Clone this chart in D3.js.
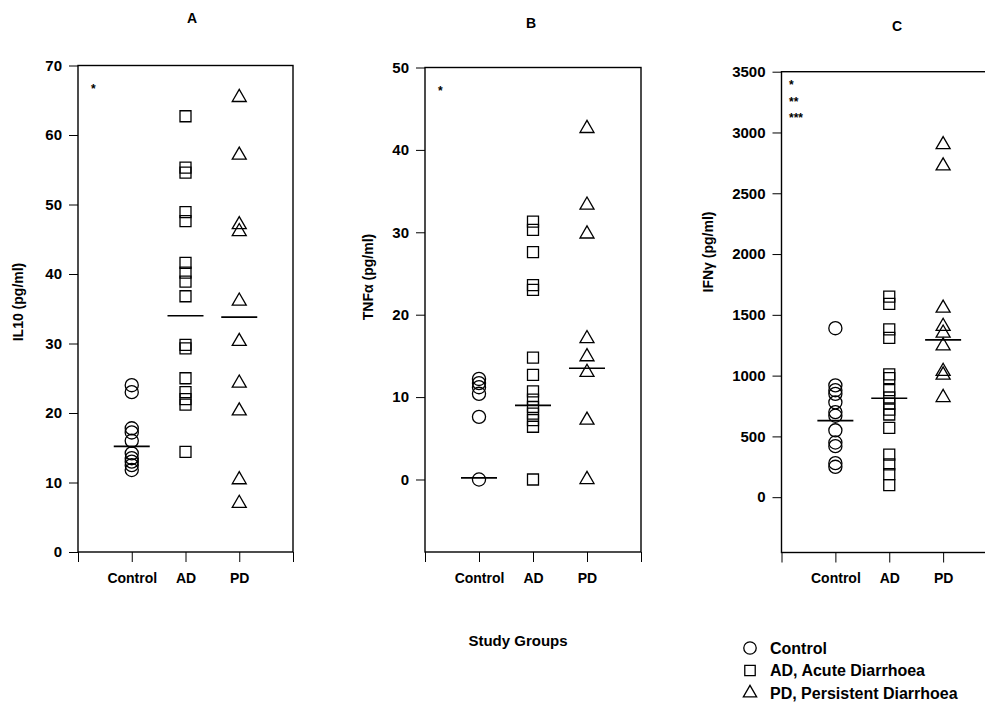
<!DOCTYPE html>
<html>
<head>
<meta charset="utf-8">
<script src="https://cdn.jsdelivr.net/npm/d3@7/dist/d3.min.js"></script>
<style>
  body { margin: 0; background: #fff; }
  text { font-family: "Liberation Sans", Arial, sans-serif; fill: #000; }
</style>
</head>
<body>
<svg id="chart" width="985" height="703"></svg>
<script>
// groups on the x axis
const groups = ['Control', 'AD', 'PD']

// IL10 (pg/ml), panel A
const il10Control = [24.0, 23.0, 17.8, 17.2, 16.0, 14.2, 13.5, 13.0, 12.5, 11.8]
const il10AD = [62.7, 55.3, 54.6, 48.9, 47.6, 41.6, 40.2, 38.9, 36.8, 29.8, 29.3, 25.0, 23.0, 22.0, 21.2, 14.4]
const il10PD = [65.4, 57.1, 47.1, 46.1, 36.1, 30.3, 24.3, 20.3, 10.4, 7.0]
const il10Lines = [15.2, 34.0, 33.8]
const il10Ticks = [0, 10, 20, 30, 40, 50, 60, 70]

// TNFa (pg/ml), panel B
const tnfControl = [12.2, 11.7, 11.2, 10.4, 7.6, 0]
const tnfAD = [31.3, 30.3, 27.6, 23.6, 23.0, 14.8, 12.7, 10.7, 9.7, 8.8, 8.0, 7.2, 6.4, 0]
const tnfPD = [42.6, 33.3, 29.8, 17.1, 14.9, 13.0, 7.2, 0]
const tnfLines = [0.2, 9.0, 13.5]
const tnfTicks = [0, 10, 20, 30, 40, 50]

// IFNg (pg/ml), panel C
const ifnControl = [1390, 920, 880, 850, 780, 700, 670, 550, 450, 420, 280, 250]
const ifnAD = [1650, 1590, 1380, 1310, 1010, 980, 880, 820, 770, 720, 680, 570, 350, 270, 190, 100]
const ifnPD = [2900, 2725, 1555, 1405, 1350, 1245, 1035, 1005, 820]
const ifnLines = [630, 814, 1294]
const ifnTicks = [0, 500, 1000, 1500, 2000, 2500, 3000, 3500]

const legendLabels = ['Control', 'AD, Acute Diarrhoea', 'PD, Persistent Diarrhoea']

const shapes = [d3.symbolCircle, d3.symbolSquare, d3.symbolTriangle]
const sizes = [135, 121, 85]

let svg = d3.select('#chart')

let panels = [
  { title: 'A', label: 'IL10 (pg/ml)', series: [il10Control, il10AD, il10PD], lines: il10Lines, ticks: il10Ticks,
    domain: [0, 70], top: 65.5, bottom: 552, left: 78, right: 293, stars: ['*'], starX: 91, starY: 93,
    labelX: 23, labelY: 302, titleX: 192, titleY: 23 },
  { title: 'B', label: 'TNF\u03b1 (pg/ml)', series: [tnfControl, tnfAD, tnfPD], lines: tnfLines, ticks: tnfTicks,
    domain: [-8.8, 50], top: 67.5, bottom: 552, left: 425, right: 641, stars: ['*'], starX: 438, starY: 95,
    labelX: 373, labelY: 277, titleX: 531, titleY: 27.5 },
  { title: 'C', label: 'IFN\u03b3 (pg/ml)', series: [ifnControl, ifnAD, ifnPD], lines: ifnLines, ticks: ifnTicks,
    domain: [-455, 3500], top: 71.7, bottom: 552.5, left: 781.5, right: 997, stars: ['*', '**', '***'], starX: 789, starY: 89,
    labelX: 713, labelY: 252, titleX: 897, titleY: 30.5 }
]

panels.forEach(p => {
  let x = d3.scaleLinear().domain([0, 4]).range([p.left, p.right])
  let y = d3.scaleLinear().domain(p.domain).range([p.bottom, p.top])
  let g = svg.append('g')

  // frame
  g.append('rect')
    .attr('x', p.left).attr('y', p.top)
    .attr('width', p.right - p.left).attr('height', p.bottom - p.top)
    .attr('fill', 'none').attr('stroke', '#000').attr('stroke-width', 1.4)

  let yAxis = d3.axisLeft(y).tickValues(p.ticks).tickSize(9).tickPadding(7).tickFormat(d3.format('d'))
  let ay = g.append('g').attr('transform', 'translate(' + p.left + ',0)').call(yAxis)
  ay.select('.domain').remove()
  ay.selectAll('line').attr('stroke-width', 1)
  ay.selectAll('text').attr('font-size', '15px').attr('font-weight', 'bold')

  let xAxis = d3.axisBottom(x).tickValues([0, 1, 2, 3, 4]).tickSize(10).tickPadding(11)
    .tickFormat(d => (d >= 1 && d <= 3) ? groups[d - 1] : '')
  let ax = g.append('g').attr('transform', 'translate(0,' + p.bottom + ')').call(xAxis)
  ax.select('.domain').remove()
  ax.selectAll('line').attr('stroke-width', 1)
  ax.selectAll('text').attr('font-size', '14px').attr('font-weight', 'bold')

  // points
  p.series.forEach((vals, i) => {
    g.selectAll(null)
      .data(vals)
      .enter()
      .append('path')
      .attr('d', d3.symbol().type(shapes[i]).size(sizes[i]))
      .attr('transform', d => 'translate(' + x(i + 1) + ',' + y(d) + ')')
      .attr('fill', 'none')
      .attr('stroke', '#000')
      .attr('stroke-width', 1.3)
  })

  // summary lines
  g.selectAll(null)
    .data(p.lines)
    .enter()
    .append('line')
    .attr('x1', (d, i) => x(i + 1) - 18)
    .attr('x2', (d, i) => x(i + 1) + 18)
    .attr('y1', d => y(d))
    .attr('y2', d => y(d))
    .attr('stroke', '#000')
    .attr('stroke-width', 1.6)

  // significance stars
  g.selectAll(null)
    .data(p.stars)
    .enter()
    .append('text')
    .attr('x', p.starX)
    .attr('y', (d, i) => p.starY + i * 16.5)
    .attr('font-size', '12px')
    .attr('font-weight', 'bold')
    .text(d => d)

  g.append('text')
    .attr('x', p.titleX).attr('y', p.titleY)
    .attr('text-anchor', 'middle')
    .attr('font-size', '14px').attr('font-weight', 'bold')
    .text(p.title)

  g.append('text')
    .attr('transform', 'translate(' + p.labelX + ',' + p.labelY + ') rotate(-90)')
    .attr('text-anchor', 'middle')
    .attr('font-size', '14px').attr('font-weight', 'bold')
    .text(p.label)
})

svg.append('text')
  .attr('x', 518).attr('y', 646)
  .attr('text-anchor', 'middle')
  .attr('font-size', '15px').attr('font-weight', 'bold')
  .text('Study Groups')

let legend = svg.append('g').attr('transform', 'translate(750,648)')
legendLabels.forEach((t, i) => {
  let row = legend.append('g').attr('transform', 'translate(0,' + (i * 22.5) + ')')
  row.append('path')
    .attr('d', d3.symbol().type(shapes[i]).size(sizes[i] * 0.9))
    .attr('fill', 'none').attr('stroke', '#000').attr('stroke-width', 1.3)
  row.append('text')
    .attr('x', 20).attr('y', 5.5)
    .attr('font-size', '16px').attr('font-weight', 'bold')
    .text(t)
})
</script>
</body>
</html>
